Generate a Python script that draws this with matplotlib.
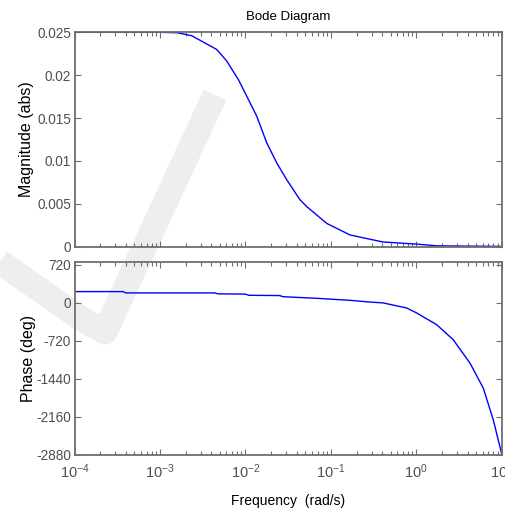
import numpy as np
import matplotlib
matplotlib.use("Agg")
import matplotlib.pyplot as plt
from matplotlib.lines import Line2D
from matplotlib.ticker import FixedLocator, FuncFormatter, LogLocator, NullFormatter

plt.rcParams['font.family'] = ['Liberation Sans', 'DejaVu Sans']
plt.rcParams['mathtext.default'] = 'regular'

# values (log10 of frequency in rad/s)
mag_logw = [-4.0, -3.0, -2.8, -2.628, -2.336, -2.219, -2.083, -1.985, -1.867, -1.750,
            -1.633, -1.516, -1.361, -1.279, -1.045, -0.775, -0.39, 0.009, 0.243, 1.0]
mag_abs = [0.025, 0.025, 0.02495, 0.0246, 0.0230, 0.02166, 0.0195, 0.01757, 0.01522, 0.01211,
           0.00977, 0.00781, 0.00547, 0.00465, 0.0027, 0.00137, 0.00055, 0.0003, 0.0001, 0.00003]

phase_logw = [-4.0, -3.43, -3.40, -2.36, -2.32, -2.0, -1.96, -1.60, -1.556, -1.165,
              -0.775, -0.58, -0.386, -0.112, 0.005, 0.239, 0.433, 0.629, 0.785, 0.902, 1.0]
phase_deg = [215, 215, 190, 190, 172, 168, 145, 140, 118, 88,
             50, 22, 0, -95, -190, -412, -697, -1140, -1615, -2217, -2860]

mag_ticks = [0, 0.005, 0.01, 0.015, 0.02, 0.025]
mag_ticklabels = ['0', '0.005', '0.01', '0.015', '0.02', '0.025']
phase_ticks = [-2880, -2160, -1440, -720, 0, 720]
decades = [-4, -3, -2, -1, 0, 1]

W, H = 506, 513
fig = plt.figure(figsize=(W / 100, H / 100), dpi=100)


def px(x, y):
    return x / W, 1 - y / H


# faint check-mark watermark behind the axes
chk_x = [0, 40, 80, 105, 150, 215]
chk_y = [262, 290, 318, 332, 235, 95]
fig.add_artist(Line2D([px(a, b)[0] for a, b in zip(chk_x, chk_y)],
                      [px(a, b)[1] for a, b in zip(chk_x, chk_y)],
                      transform=fig.transFigure, color='#eeeeee', lw=18,
                      solid_capstyle='butt', solid_joinstyle='round', zorder=-11))

ax1 = fig.add_axes([74.5 / W, 1 - 246.7 / H, (501.7 - 74.5) / W, (246.7 - 32.3) / H])
ax2 = fig.add_axes([74.5 / W, 1 - 455 / H, (501.7 - 74.5) / W, (455 - 262.3) / H])

w_mag = [10.0 ** v for v in mag_logw]
w_ph = [10.0 ** v for v in phase_logw]
ax1.plot(w_mag, mag_abs, color='#0000ff', lw=1.0)
ax2.plot(w_ph, phase_deg, color='#0000ff', lw=1.0)

spine_c = '#6e6e6e'
label_c = '#505050'
for ax in (ax1, ax2):
    ax.set_facecolor('none')
    ax.set_xscale('log')
    ax.set_xlim(1e-4, 1e1)
    ax.xaxis.set_major_locator(FixedLocator([10.0 ** d for d in decades]))
    ax.xaxis.set_minor_locator(LogLocator(base=10, subs=np.arange(2, 10), numticks=20))
    ax.xaxis.set_minor_formatter(NullFormatter())
    ax.tick_params(which='both', direction='in', top=True, right=True,
                   color=spine_c, labelcolor=label_c, labelsize=9.8, width=0.8)
    ax.tick_params(which='major', length=4, pad=2.5)
    ax.tick_params(which='minor', length=3)
    for s in ax.spines.values():
        s.set_color(spine_c)
        s.set_linewidth(1.3)

ax1.set_ylim(0, 0.025)
ax1.set_yticks(mag_ticks)
ax1.set_yticklabels(mag_ticklabels)
ax1.xaxis.set_major_formatter(NullFormatter())
ax1.set_ylabel('Magnitude (abs)', fontsize=11.5, labelpad=2)
ax1.set_title('Bode Diagram', fontsize=9.5, pad=9)

ax2.set_ylim(-2880, 770)
ax2.set_yticks(phase_ticks)
ax2.set_yticklabels([str(t) for t in phase_ticks])
ax2.xaxis.set_major_formatter(FuncFormatter(lambda v, p: r'$10^{%d}$' % round(np.log10(v))))
ax2.tick_params(axis='x', which='major', labelsize=10.5, pad=5)
ax2.set_ylabel('Phase (deg)', fontsize=11.5, labelpad=0)
ax2.set_xlabel('Frequency  (rad/s)', fontsize=10, labelpad=10)

fig.savefig('out.png', dpi=100)
